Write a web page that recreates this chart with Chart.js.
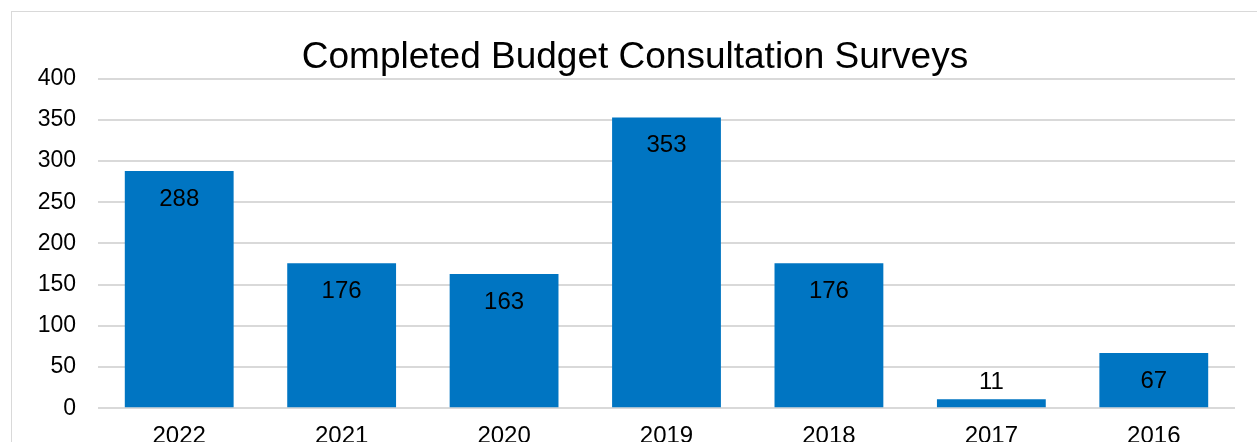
<!DOCTYPE html>
<html>
<head>
<meta charset="utf-8">
<script src="https://cdn.jsdelivr.net/npm/chart.js@4"></script>
<style>
  html, body { margin: 0; padding: 0; background: #fff; overflow: hidden; }
  #wrap {
    position: absolute; left: 11px; top: 11px;
    width: 1250px; height: 472px;
    border: 1px solid #d9d9d9; box-sizing: border-box;
  }
  #myChart { display: block; }
</style>
</head>
<body>
<div id="wrap"><canvas id="myChart" width="1248" height="470"></canvas></div>
<script>
const years = ["2022", "2021", "2020", "2019", "2018", "2017", "2016"];
const surveys = [288, 176, 163, 353, 176, 11, 67];
const yTicks = [0, 50, 100, 150, 200, 250, 300, 350, 400];

const FONT = "'Liberation Sans', Arial, sans-serif";
const ctx = document.getElementById("myChart");

// value labels: inside the top of each bar, or above it when the bar is too short
const barLabels = {
  id: "barLabels",
  afterDatasetsDraw(chart) {
    const c = chart.ctx;
    const meta = chart.getDatasetMeta(0);
    c.save();
    c.font = "24px " + FONT;
    c.fillStyle = "#000";
    c.textAlign = "center";
    c.textBaseline = "middle";
    meta.data.forEach((bar, i) => {
      const h = bar.base - bar.y;
      const y = h < 40 ? bar.y - 17 : bar.y + 28;
      c.fillText(String(surveys[i]), bar.x, y);
    });
    c.restore();
  },
};

new Chart(ctx, {
  type: "bar",
  data: {
    labels: years,
    datasets: [
      {
        label: "Surveys",
        data: surveys,
        backgroundColor: "#0075c2",
        barPercentage: 0.67,
        categoryPercentage: 1,
      },
    ],
  },
  options: {
    responsive: false,
    animation: false,
    layout: { padding: { left: 23, right: 25, top: 0, bottom: 17 } },
    plugins: {
      legend: { display: false },
      tooltip: { enabled: false },
      title: {
        display: true,
        text: "Completed Budget Consultation Surveys",
        color: "#000",
        font: { family: FONT, size: 37, weight: "normal", lineHeight: 1.1 },
        padding: { top: 25, bottom: 1 },
      },
    },
    scales: {
      x: {
        grid: { display: false, drawTicks: false },
        border: { display: false },
        ticks: {
          color: "#000",
          padding: 14,
          font: { family: FONT, size: 24 },
        },
      },
      y: {
        min: 0,
        max: 400,
        afterBuildTicks: (scale) => {
          scale.ticks = yTicks.map((v) => ({ value: v }));
        },
        afterFit: (scale) => {
          scale.width = 63;
        },
        grid: { color: "#d9d9d9", lineWidth: 2, drawTicks: false },
        border: { display: false },
        ticks: {
          color: "#000",
          padding: 22,
          font: { family: FONT, size: 23 },
        },
      },
    },
  },
  plugins: [barLabels],
});
</script>
</body>
</html>
